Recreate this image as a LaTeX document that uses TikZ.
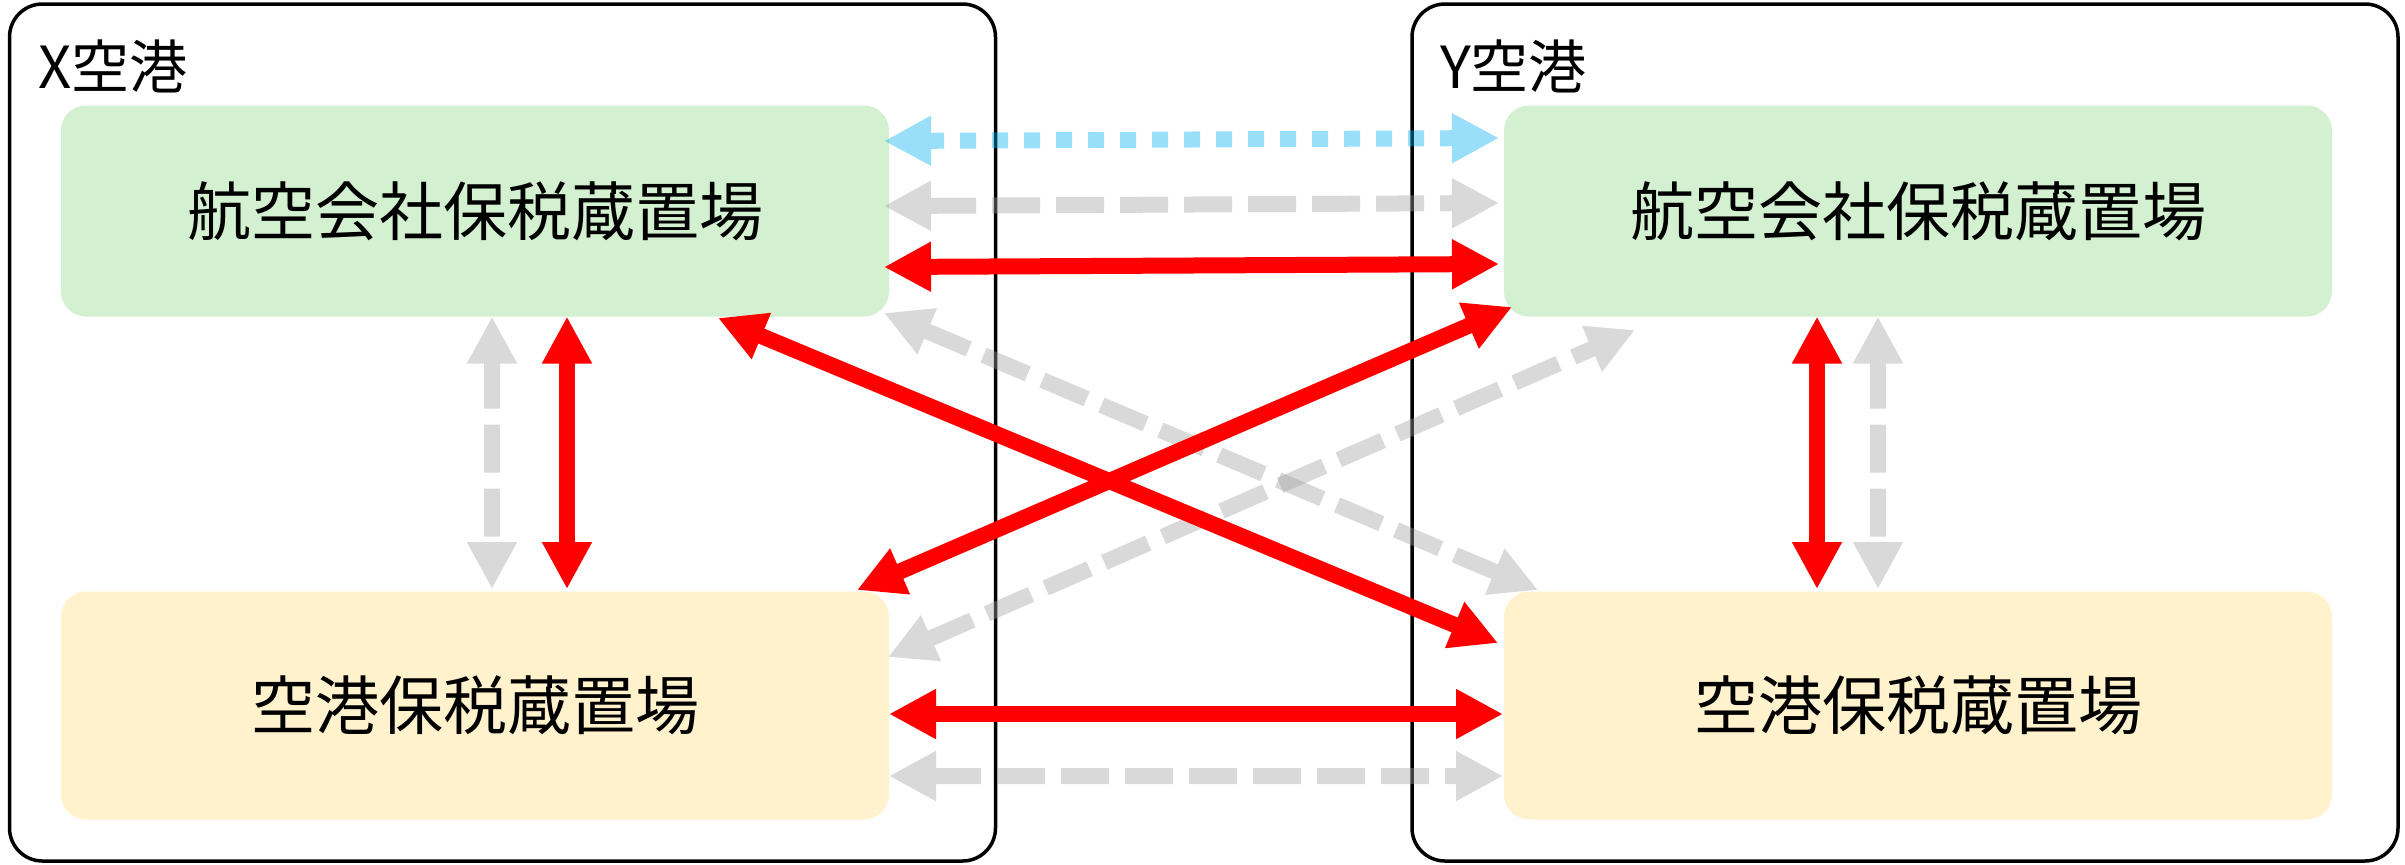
\documentclass[tikz,border=0pt]{standalone}
\usepackage{fontspec}
\newfontfamily\jpfont{Noto Sans CJK JP}
\usetikzlibrary{arrows.meta,calc}
\definecolor{airgreen}{HTML}{D3F0D1}
\definecolor{aptyellow}{HTML}{FFF2CC}
\definecolor{linkred}{HTML}{FF0000}
\definecolor{linkgray}{HTML}{A0A0A0}
\definecolor{linkblue}{HTML}{00B0F0}

\begin{document}
\begin{tikzpicture}[
  x=0.5pt, y=-0.5pt,
  every node/.style={font=\jpfont, inner sep=0pt, outer sep=0pt},
  port/.style={draw=black, line width=1.75pt, rounded corners=16.5pt,
    minimum width=493pt, minimum height=428.5pt},
  portname/.style={font=\jpfont\fontsize{29pt}{34pt}\selectfont, anchor=west},
  store/.style={rounded corners=12.5pt, minimum width=414pt,
    font=\jpfont\fontsize{32pt}{38pt}\selectfont},
  airbox/.style={store, fill=airgreen, minimum height=105.5pt},
  aptbox/.style={store, fill=aptyellow, minimum height=114pt},
  >={Triangle[length=23.5pt, width=23.5pt]},
  link/.style={line width=8pt, <->},
  redlink/.style={link, draw=linkred},
  graylink/.style={link, draw=linkgray, dash pattern=on 24pt off 8pt},
  bluelink/.style={link, draw=linkblue, dash pattern=on 8pt off 8pt},
]
\useasboundingbox (0,0) rectangle (2405,864);
% airports
\node[port] (xport) at (502.5,432.5) {};
\node[port] (yport) at (1905,432.5) {};
\node[portname] (xname) at ($(xport.north west)+(29,62)$) {X空港};
\node[portname] (yname) at ($(yport.north west)+(28,62)$) {Y空港};
% bonded areas
\node[airbox] (xair) at (475,211) {航空会社保税蔵置場};
\node[airbox] (yair) at (1918,211) {航空会社保税蔵置場};
\node[aptbox] (xapt) at (475,705.5) {空港保税蔵置場};
\node[aptbox] (yapt) at (1918,705.5) {空港保税蔵置場};
% gray links
\begin{scope}[transparency group, opacity=.4]
  \draw[graylink] ($(xair.east)+(-5,-5)$) -- ($(yair.west)+(-5,-8)$);
\end{scope}
\begin{scope}[transparency group, opacity=.4]
  \draw[graylink] ($(xapt.east)+(0,70.5)$) -- ($(yapt.west)+(-1,70.5)$);
\end{scope}
\begin{scope}[transparency group, opacity=.4]
  \draw[graylink] ($(xair.south)+(17,0)$) -- ($(xapt.north)+(17,-2.5)$);
\end{scope}
\begin{scope}[transparency group, opacity=.4]
  \draw[graylink] ($(yair.south)+(-40,0)$) -- ($(yapt.north)+(-40,-2.5)$);
\end{scope}
\begin{scope}[transparency group, opacity=.4]
  \draw[graylink] ($(xair.east)+(-5,102)$) -- ($(yapt.north west)+(34,-1.5)$);
\end{scope}
\begin{scope}[transparency group, opacity=.4]
  \draw[graylink] ($(xapt.east)+(-1,-48.5)$) -- ($(yair.south west)+(131,13.5)$);
\end{scope}
% blue link
\begin{scope}[transparency group, opacity=.4]
  \draw[bluelink] ($(xair.east)+(-5,-70)$) -- ($(yair.west)+(-5,-73)$);
\end{scope}
% red links
\draw[redlink] ($(xair.east)+(-5,56)$) -- ($(yair.west)+(-5,53)$);
\draw[redlink] ($(xapt.east)+(0,8.5)$) -- ($(yapt.west)+(-1,8.5)$);
\draw[redlink] ($(xair.south)+(92,0)$) -- ($(xapt.north)+(92,-2.5)$);
\draw[redlink] ($(yair.south)+(-101,0)$) -- ($(yapt.north)+(-101,-2.5)$);
\draw[redlink] ($(xair.south)+(243,1.5)$) -- ($(yapt.west)+(-6,-62.5)$);
\draw[redlink] ($(xapt.north)+(382,-1.5)$) -- ($(yair.west)+(8,96)$);
\end{tikzpicture}
\end{document}
